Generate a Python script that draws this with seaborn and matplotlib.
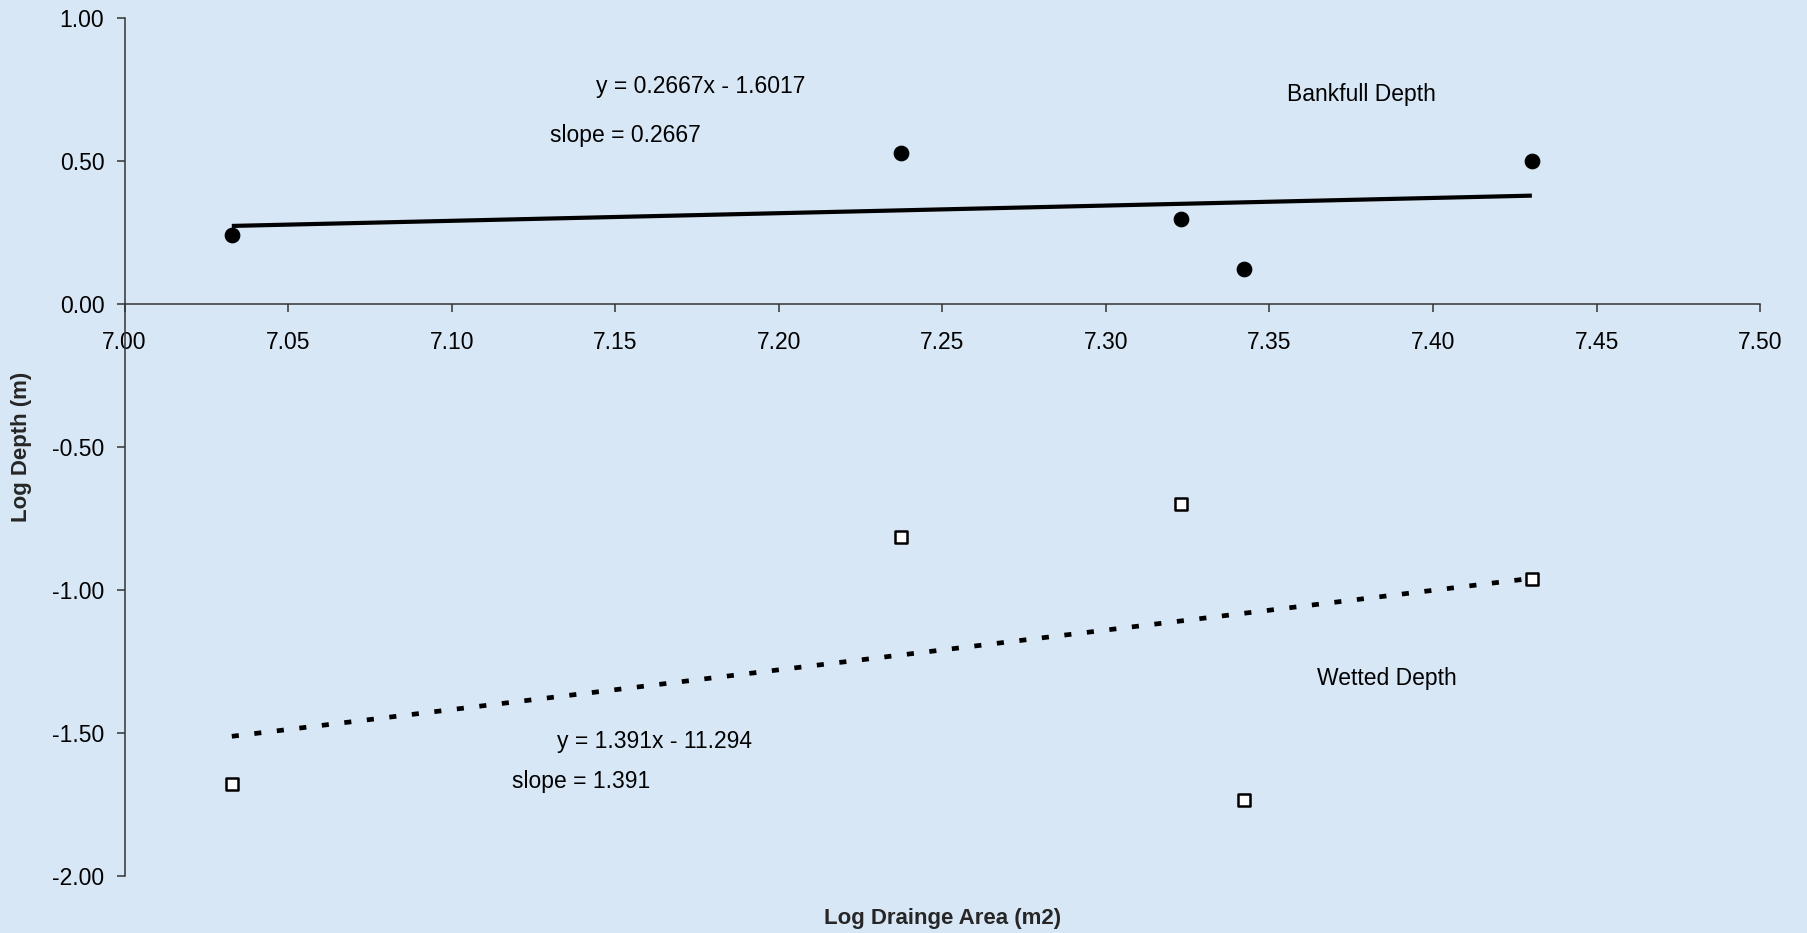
import numpy as np
import pandas as pd
import matplotlib
matplotlib.use("Agg")
import matplotlib.pyplot as plt
import seaborn as sns

# =============================
# DATA
# =============================
log_area = [7.0328, 7.2375, 7.3231, 7.3421, 7.4302]
bankfull_depth = [0.242, 0.528, 0.298, 0.125, 0.500]
wetted_depth = [-1.677, -0.815, -0.698, -1.734, -0.960]

# trend line coefficients printed on the chart
bankfull_fit = (0.2667, -1.6017)
wetted_fit = (1.391, -11.294)

x_ticks = [7.00, 7.05, 7.10, 7.15, 7.20, 7.25, 7.30, 7.35, 7.40, 7.45, 7.50]
y_ticks = [1.00, 0.50, 0.00, -0.50, -1.00, -1.50, -2.00]

BG = "#d8e7f6"

# =============================
# STYLE
# =============================
sns.set_theme(style="white")
plt.rcParams["font.family"] = ["Liberation Sans", "DejaVu Sans"]

df = pd.DataFrame({"area": log_area,
                   "bankfull": bankfull_depth,
                   "wetted": wetted_depth})

x_fit = np.array([min(log_area), max(log_area)])
fit_df = pd.DataFrame({
    "area": x_fit,
    "bankfull": bankfull_fit[0] * x_fit + bankfull_fit[1],
    "wetted": wetted_fit[0] * x_fit + wetted_fit[1],
})

fig = plt.figure(figsize=(18.07, 9.33), dpi=100, facecolor=BG)
ax = fig.add_axes([0.0689, 0.0611, 0.9052, 0.9192])
ax.set_facecolor(BG)

# trend lines
sns.lineplot(data=fit_df, x="area", y="bankfull", ax=ax, color="black",
             linewidth=3.0, solid_capstyle="butt")
sns.lineplot(data=fit_df, x="area", y="wetted", ax=ax, color="black",
             linewidth=3.4, linestyle=(0, (1.5, 3.3)), dash_capstyle="butt")

# points
sns.scatterplot(data=df, x="area", y="bankfull", ax=ax, marker="o",
                s=110, color="black", edgecolor="black", zorder=5)
sns.scatterplot(data=df, x="area", y="wetted", ax=ax, marker="s",
                s=70, color="white", edgecolor="black", linewidth=1.8, zorder=5)

# =============================
# AXES
# =============================
ax.set_xlim(7.0, 7.5)
ax.set_ylim(-2.0, 1.0)
ax.set_xticks(x_ticks)
ax.set_xticklabels([f"{t:.2f}" for t in x_ticks])
ax.set_yticks(y_ticks)
ax.set_yticklabels([f"{t:.2f}" for t in y_ticks])

for s in ["top", "right"]:
    ax.spines[s].set_visible(False)
ax.spines["bottom"].set_position(("data", 0))
for s in ["left", "bottom"]:
    ax.spines[s].set_color("#333333")
    ax.spines[s].set_linewidth(1.1)

ax.tick_params(axis="x", direction="out", length=6, width=1.1,
               color="#333333", pad=13, labelsize=16.5, labelcolor="black")
ax.tick_params(axis="y", direction="out", length=5.5, width=1.1,
               color="#333333", pad=9, labelsize=16.5, labelcolor="black")
ax.tick_params(bottom=True, left=True)

ax.set_xlabel("Log Drainge Area (m2)", fontsize=16, fontweight="bold")
ax.xaxis.set_label_coords(0.5, -0.037)
ax.set_ylabel("Log Depth (m)", fontsize=16, fontweight="bold")
ax.yaxis.set_label_coords(-0.0566, 0.5)

# =============================
# ANNOTATIONS
# =============================
txt = dict(fontsize=16.5, ha="center", va="center", color="black")
ax.text(7.176, 0.762, "y = 0.2667x - 1.6017", **txt)
ax.text(7.153, 0.589, "slope = 0.2667", **txt)
ax.text(7.378, 0.734, "Bankfull Depth", **txt)
ax.text(7.386, -1.310, "Wetted Depth", **txt)
ax.text(7.162, -1.528, "y = 1.391x - 11.294", **txt)
ax.text(7.1395, -1.669, "slope = 1.391", **txt)

fig.savefig("out.png", dpi=100, facecolor=BG)
plt.close(fig)
